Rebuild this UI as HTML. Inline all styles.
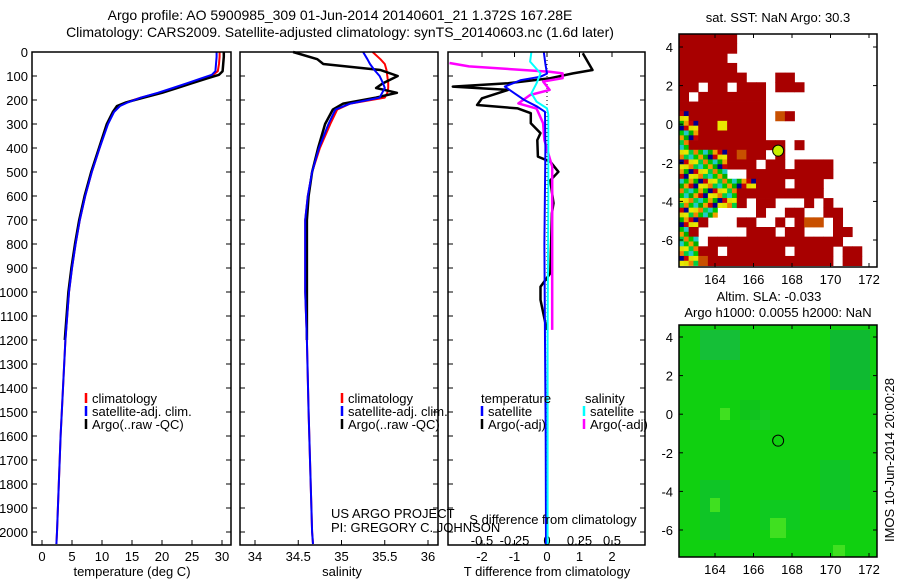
<!DOCTYPE html>
<html><head><meta charset="utf-8"><style>
body{margin:0;background:#fff;}
svg{display:block;font-family:"Liberation Sans",sans-serif;}
text{fill:#000;}
</style></head><body>
<svg id="c" width="900" height="580" viewBox="0 0 900 580" xmlns="http://www.w3.org/2000/svg">
<text x="340" y="20" font-size="14" text-anchor="middle">Argo profile: AO 5900985_309 01-Jun-2014 20140601_21 1.372S 167.28E</text>
<text x="340" y="37" font-size="14" text-anchor="middle">Climatology: CARS2009. Satellite-adjusted climatology: synTS_20140603.nc (1.6d later)</text>
<g id="g"></g>
</svg>
<script>
// ---- data ----
const depthT=[0,20,50,80,95,110,130,150,170,190,210,225,250,300,400,500,600,700,800,900,1000,1200,1400,1600,1800,2000,2050];
const argoT=[30.3,30.3,30.2,30.1,29.5,27.5,25,22.5,20,17,14,12.5,11.8,10.8,9.5,8.2,7.1,6.2,5.5,4.9,4.4,3.8];
const climT=[29.6,29.6,29.5,29.3,28.5,27,24.5,22,19.5,16.5,14,12.8,11.9,10.9,9.6,8.3,7.2,6.3,5.6,5.0,4.5,3.9,3.5,3.1,2.8,2.5,2.4];
const satT=[29.1,29.1,29.0,28.9,28.3,26.5,24.2,21.8,19.3,16.5,14.3,13,12,11,9.6,8.3,7.2,6.3,5.6,5.0,4.5,3.9,3.5,3.1,2.8,2.5,2.4];
const depthS=[0,30,50,75,100,130,150,170,190,215,240,300,400,500,600,700,1000,1200,1500,2000,2050];
const argoS=[34.44,34.72,34.79,35.45,35.65,35.48,35.4,35.64,35.4,35.02,34.9,34.81,34.73,34.66,34.62,34.6,34.6,34.6];
const climS=[35.36,35.45,35.5,35.52,35.53,35.54,35.54,35.53,35.5,35.1,34.95,34.87,34.75,34.66,34.61,34.58,34.58,34.6,34.62,34.66,34.67];
const satS=[35.25,35.3,35.33,35.38,35.44,35.48,35.5,35.47,35.44,35.1,34.93,34.85,34.74,34.66,34.61,34.58,34.58,34.6,34.62,34.66,34.67];
const dTargoDepth=[5,75,89,109,130,144,158,193,221,235,255,297,338,367,436,457,499,535,630,672,922,978,1033,1130,1158];
const dTargo=[1.1,1.4,0.8,0.1,-1.2,-2.9,-1.2,-2,-2.15,-0.9,-0.5,-0.5,-0.2,-0.3,-0.28,0.1,0.35,0.1,0.2,0.15,0.1,-0.2,-0.2,-0.05,0];
const dTsatDepth=[0,50,90,103,117,144,172,200,228,249,400,800,1200,1600,2050];
const dTsat=[-0.1,-0.05,0,-0.2,-0.8,-1.3,-1.0,-0.7,-0.3,-0.06,-0.05,-0.08,-0.06,-0.04,-0.03];
const dSargoDepth=[46,60,82,89,109,123,158,179,214,236,297,367,478,645,1158];
const dSargo=[-0.75,-0.6,0.02,0.12,0.12,-0.03,0.02,-0.13,-0.22,-0.08,-0.03,-0.02,0.04,0.04,0.04];
const dSsatDepth=[0,40,89,130,172,207,235,260,600,1200,2050];
const dSsat=[-0.12,-0.13,-0.05,-0.08,-0.12,-0.08,0,0.01,0.01,0.005,0.005];
const depthTicks=[0,100,200,300,400,500,600,700,800,900,1000,1100,1200,1300,1400,1500,1600,1700,1800,1900,2000];
const tempTicks=[0,5,10,15,20,25,30];
const salTicks=[34,34.5,35,35.5,36];
const tdTicks=[-2,-1,0,1,2];
const sdTicks=[-0.5,-0.25,0,0.25,0.5];
const lonTicks=[164,166,168,170,172];
const latTicks=[4,2,0,-2,-4,-6];
const floatLon=167.28, floatLat=-1.372;
const sstGrid=[
"DDDDDD...............",
"DDDDDD...............",
"DDDDD................",
"DDDDDD...............",
"DDDDDDD...DD.........",
"DD.DD.DDD.DDD........",
"D.DDDDDDD............",
"DDDDDDDDD............",
"mDDDDDDDD.oD.........",
"mmDDyDDDD............",
"mmDDDDDDD............",
"mDDDDDDDDDD.D........",
"mmmmmDoDD.D..........",
"mmmmmDDD.DD.DDDD.....",
"mmmmm..DDDDDDDDD.....",
"mmmmmmmmDDD.DDD......",
"mmmmmmDDDDDDDDD......",
"mmmmmmD.DD...D.D.....",
"mmmm....D..DD..DD....",
"mmD...DD..D.Doo.D....",
"mD.....DDD.DD...DD...",
"mm.DDDDDDDDDDDDDD....",
"mmDD.DDDDDD.DDDD.DD..",
"mmoDDDDDDDDDDDDD.DD.."];

// ---- scales ----
const Y0=52,YS=0.24,YB=545;
const dy=d=>Y0+d*YS;
const xT=v=>42+v*6;
const xS=v=>255+(v-34)*86.5;
const xTD=v=>547+v*32.5;
const xSD=v=>547+v*130;
const mapLonX=l=>715+(l-164)*19.25;
const map1Y=l=>47+(4-l)*19.3;
const map2Y=l=>337+(4-l)*19.3;

const NS='http://www.w3.org/2000/svg';
const G=document.getElementById('g');
function el(tag,attrs,parent){const e=document.createElementNS(NS,tag);for(const k in attrs)e.setAttribute(k,attrs[k]);(parent||G).appendChild(e);return e;}
function txt(x,y,s,anchor,size,parent){const t=el('text',{x:x,y:y,'font-size':size||13,'text-anchor':anchor||'middle'},parent);t.textContent=s;return t;}
function line(depths,vals,xf,color,w,name,dash){
  let p='';for(let i=0;i<vals.length&&i<depths.length;i++)p+=(i?'L':'M')+xf(vals[i]).toFixed(1)+' '+dy(depths[i]).toFixed(1);
  const e=el('path',{d:p,fill:'none',stroke:color,'stroke-width':w,'stroke-linejoin':'round'});
  if(dash)e.setAttribute('stroke-dasharray',dash);
  
  
}
function frame(x0,x1,y0,y1,name){
  const r=el('rect',{x:x0,y:y0,width:x1-x0,height:y1-y0,fill:'none',stroke:'#000','stroke-width':1.5});
  
  
}
function depthTickMarks(x0,x1){
  depthTicks.forEach(d=>{el('line',{x1:x0,x2:x0+5,y1:dy(d),y2:dy(d),stroke:'#000'});el('line',{x1:x1,x2:x1-5,y1:dy(d),y2:dy(d),stroke:'#000'});});
}
function legendEntry(x,y,color,label,name){
  el('line',{x1:x,x2:x,y1:y-10,y2:y,stroke:color,'stroke-width':2.5});
  const t=txt(x+6,y,label,'start',13);
  
  
}

// ---- panel 1: temperature ----
depthTicks.forEach(d=>{const t=txt(28,dy(d)+5,String(d),'end',13);});
depthTickMarks(32,231);
tempTicks.forEach(v=>{el('line',{x1:xT(v),x2:xT(v),y1:YB,y2:YB-5,stroke:'#000'});const t=txt(xT(v),561,String(v));});
line(depthT,climT,xT,'#f00',2,'temperature-climatology-line');
line(depthT,argoT,xT,'#000',2.5,'temperature-argo-line');
line(depthT,satT,xT,'#00f',2,'temperature-satellite-line');
frame(32,231,Y0,YB,'temperature-panel');
{const t=txt(132,576,'temperature (deg C)');}
legendEntry(86,403,'#f00','climatology','legend-climatology');
legendEntry(86,416,'#00f','satellite-adj. clim.','legend-satellite-adj');
legendEntry(86,429,'#000','Argo(..raw -QC)','legend-argo');

// ---- panel 2: salinity ----
depthTickMarks(240,438);
salTicks.forEach(v=>{el('line',{x1:xS(v),x2:xS(v),y1:YB,y2:YB-5,stroke:'#000'});const t=txt(xS(v),561,String(v));});
line(depthS,climS,xS,'#f00',2,'salinity-climatology-line');
line(depthS,argoS,xS,'#000',2.5,'salinity-argo-line');
line(depthS,satS,xS,'#00f',2,'salinity-satellite-line');
frame(240,438,Y0,YB,'salinity-panel');
{const t=txt(342,576,'salinity');}
legendEntry(342,403,'#f00','climatology','legend-climatology-2');
legendEntry(342,416,'#00f','satellite-adj. clim.','legend-satellite-adj-2');
legendEntry(342,429,'#000','Argo(..raw -QC)','legend-argo-2');
{const t=txt(331,518,'US ARGO PROJECT','start',13);
 const t2=txt(331,532,'PI: GREGORY C. JOHNSON','start',13);}

// ---- panel 3: differences ----
depthTickMarks(448,645);
tdTicks.forEach(v=>{el('line',{x1:xTD(v),x2:xTD(v),y1:YB,y2:YB-5,stroke:'#000'});const t=txt(xTD(v),561,String(v));});
sdTicks.forEach(v=>{el('line',{x1:xSD(v),x2:xSD(v),y1:Y0,y2:Y0+5,stroke:'#000'});const t=txt(xSD(v),545,String(v));});
el('line',{x1:547,x2:547,y1:Y0,y2:YB,stroke:'#000','stroke-dasharray':'1 3'});
line(dTargoDepth,dTargo,xTD,'#000',2.5,'t-diff-argo-line');
line(dSargoDepth,dSargo,xSD,'#f0f',2.5,'s-diff-argo-line');
line(dTsatDepth,dTsat,xTD,'#00f',2,'t-diff-satellite-line');
line(dSsatDepth,dSsat,xSD,'#0ff',2,'s-diff-satellite-line');
frame(448,645,Y0,YB,'difference-panel');
{const t=txt(553,524,'S difference from climatology');
 const t2=txt(547,576,'T difference from climatology');
 const t3=txt(481,403,'temperature','start');
 const t4=txt(585,403,'salinity','start');}
legendEntry(482,416,'#00f','satellite','legend-t-satellite');
legendEntry(482,429,'#000','Argo(-adj)','legend-t-argo');
legendEntry(584,416,'#0ff','satellite','legend-s-satellite');
legendEntry(584,429,'#f0f','Argo(-adj)','legend-s-argo');

// ---- maps ----
function mapAxes(y0,y1,yf,name){
  frame(679,877,y0,y1,name);
  lonTicks.forEach(l=>{const x=mapLonX(l);el('line',{x1:x,x2:x,y1:y1,y2:y1-4,stroke:'#000'});el('line',{x1:x,x2:x,y1:y0,y2:y0+4,stroke:'#000'});const t=txt(x,y1+17,String(l));});
  latTicks.forEach(l=>{const y=yf(l);el('line',{x1:679,x2:683,y1:y,y2:y,stroke:'#000'});el('line',{x1:877,x2:873,y1:y,y2:y,stroke:'#000'});const t=txt(673,y+5,String(l),'end');});
}
const mixCols=['#00c800','#e8e800','#f0a000','#00d040','#c80000','#20c8c8','#e0e000','#00b000','#f08000','#00008c'];
const cw=19.25*0.5, ch=19.3*0.5;
sstGrid.forEach((row,r)=>{for(let c=0;c<row.length;c++){const k=row[c];if(k==='.')continue;
  let col=k==='D'?'#a80000':k==='o'?'#c85000':k==='y'?'#e8e800':null;
  const x=679+c*cw,y=34+r*ch;
  if(col){const e=el('rect',{x:x,y:y,width:cw+0.4,height:ch+0.4,fill:col});}
  else{for(let i=0;i<2;i++)for(let j=0;j<2;j++){const e=el('rect',{x:x+i*cw/2,y:y+j*ch/2,width:cw/2+0.3,height:ch/2+0.3,fill:mixCols[(r*3+c*7+i*5+j*2)%mixCols.length]});}}
}});
{const e=el('circle',{cx:mapLonX(floatLon),cy:map1Y(floatLat),r:5.5,fill:'#c8f000',stroke:'#000','stroke-width':1});}
mapAxes(34,267,map1Y,'sst-map');
{const t=txt(778,22,'sat. SST: NaN Argo: 30.3');}

{const e=el('rect',{x:679,y:325,width:198,height:232,fill:'#10d010'});}
[[700,330,40,30,'#18b848'],[830,330,40,60,'#10b040'],[700,480,30,60,'#10c030'],[820,460,30,50,'#10c030'],[760,500,40,30,'#10c828'],[750,410,20,20,'#18c828'],[740,400,20,20,'#10c020']].forEach(p=>{const e=el('rect',{x:p[0],y:p[1],width:p[2],height:p[3],fill:p[4],opacity:0.7});});
[[720,408,10,12],[710,498,10,14],[770,518,16,20],[833,545,12,12]].forEach(p=>{const e=el('rect',{x:p[0],y:p[1],width:p[2],height:p[3],fill:'#40e020'});});
{const e=el('circle',{cx:mapLonX(floatLon),cy:map2Y(floatLat),r:5.5,fill:'none',stroke:'#000','stroke-width':1});}
mapAxes(325,557,map2Y,'sla-map');
{const t=txt(769,301,'Altim. SLA: -0.033');
 const t2=txt(778,317,'Argo h1000: 0.0055 h2000: NaN');
 const t3=txt(0,0,'IMOS 10-Jun-2014 20:00:28');t3.setAttribute('transform','translate(894,460) rotate(-90)');}
</script>
</body></html>
